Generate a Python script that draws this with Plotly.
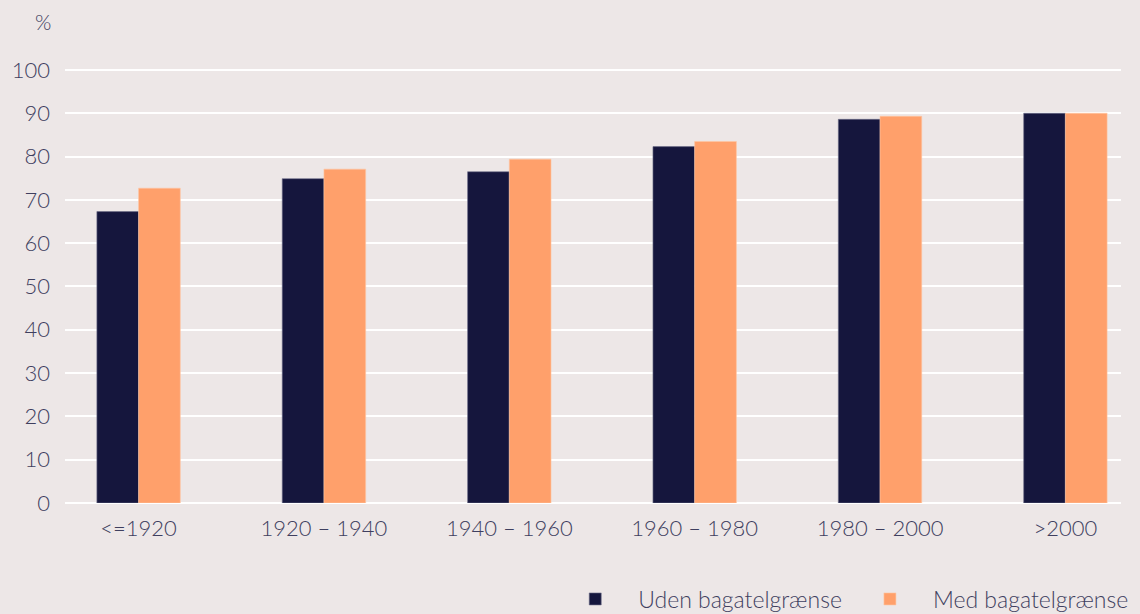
import plotly.graph_objects as go

categories = ["<=1920", "1920 – 1940", "1940 – 1960", "1960 – 1980", "1980 – 2000", ">2000"]
uden = [67.3, 74.9, 76.5, 82.3, 88.6, 90.0]
med = [72.7, 77.1, 79.4, 83.5, 89.3, 90.0]
y_ticks = list(range(0, 101, 10))

FONT = "Lato, Noto Sans, sans-serif"
TXT = "#3f3f5f"
BG = "#ede7e7"
FS = 22
W, H = 1170, 640  # page larger than the 1140x614 viewport so the legend does not shrink the plot
PLOT_LEFT, PLOT_RIGHT = 59, 1121
PLOT_TOP, PLOT_BOTTOM = 65, 503

fig = go.Figure()
fig.add_bar(x=categories, y=uden, name="Uden bagatelgrænse",
            marker=dict(color="#15163d", line=dict(color="#6e6e8a", width=0.6)))
fig.add_bar(x=categories, y=med, name="Med bagatelgrænse",
            marker=dict(color="#ffa06b", line=dict(color="#ffc6a3", width=0.6)))

ph = PLOT_BOTTOM - PLOT_TOP
pw = PLOT_RIGHT - PLOT_LEFT
fig.update_layout(
    width=W, height=H,
    paper_bgcolor=BG, plot_bgcolor=BG,
    margin=dict(l=PLOT_LEFT, r=W - PLOT_RIGHT, t=PLOT_TOP, b=H - PLOT_BOTTOM),
    barmode="group", bargap=0.55, bargroupgap=0,
    font=dict(family=FONT, size=FS, color=TXT, weight=300),
    showlegend=True,
    legend=dict(orientation="h", x=(549 - PLOT_LEFT) / pw, xanchor="left",
                y=(PLOT_BOTTOM - 599) / ph, yanchor="middle",
                font=dict(size=23, color=TXT, weight=300), bgcolor="rgba(0,0,0,0)",
                itemwidth=76, traceorder="normal"),
    xaxis=dict(range=[-0.397, 5.30], showgrid=False, zeroline=False, showline=False,
               ticks="", ticklabelstandoff=10,
               tickfont=dict(size=FS, color=TXT, weight=300), fixedrange=True),
    yaxis=dict(range=[0, 101.15], tickvals=y_ticks, showgrid=True, gridcolor="#ffffff",
               gridwidth=2, zeroline=True, zerolinecolor="#ffffff", zerolinewidth=2,
               showline=False, ticks="", ticklabelstandoff=14,
               tickfont=dict(size=FS, color=TXT, weight=300)),
)
fig.add_annotation(text="%", xref="paper", yref="paper",
                   x=(37 - PLOT_LEFT) / pw, y=(PLOT_BOTTOM - 22) / ph,
                   xanchor="center", yanchor="middle", showarrow=False,
                   font=dict(size=FS - 1, color=TXT, weight=300))

fig.write_html(
    "out.html",
    config={"displayModeBar": False},
    post_script=("document.body.style.margin='0';document.body.style.overflow='hidden';"
                 "document.documentElement.style.overflow='hidden';"
                 "document.body.style.background='%s';" % BG),
)
